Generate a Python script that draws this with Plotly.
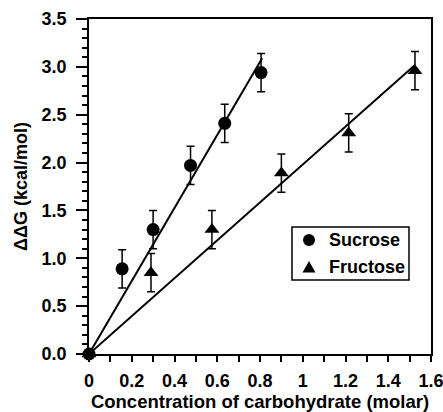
import plotly.graph_objects as go

# Data
sucrose_x = [0.0, 0.155, 0.30, 0.475, 0.635, 0.805]
sucrose_y = [0.0, 0.89, 1.30, 1.97, 2.41, 2.94]
sucrose_err = [0.0, 0.20, 0.20, 0.20, 0.20, 0.20]

fructose_x = [0.0, 0.29, 0.575, 0.90, 1.215, 1.525]
fructose_y = [0.0, 0.85, 1.30, 1.89, 2.31, 2.96]
fructose_err = [0.0, 0.20, 0.20, 0.20, 0.20, 0.20]

sucrose_fit_x = [0.0, 0.81]
sucrose_fit_y = [0.0, 3.09]
fructose_fit_x = [0.0, 1.525]
fructose_fit_y = [0.0, 3.02]

series_names = ["Sucrose", "Fructose"]

FONT = "Liberation Sans, Arial, sans-serif"
W, H = 443, 412
ML, MR, MT, MB = 89, 12, 19, 58
PW, PH = W - ML - MR, H - MT - MB


def px(x):
    return (x - ML) / PW


def py(y):
    return (H - MB - y) / PH


fig = go.Figure()

fig.add_trace(go.Scatter(x=sucrose_fit_x, y=sucrose_fit_y, mode="lines",
                         line=dict(color="black", width=2), showlegend=False,
                         cliponaxis=False))
fig.add_trace(go.Scatter(x=fructose_fit_x, y=fructose_fit_y, mode="lines",
                         line=dict(color="black", width=2), showlegend=False,
                         cliponaxis=False))

fig.add_trace(go.Scatter(
    x=sucrose_x, y=sucrose_y, mode="markers", name=series_names[0],
    marker=dict(symbol="circle", size=13, color="black"),
    error_y=dict(type="data", array=sucrose_err, color="black", thickness=1.5, width=4),
    cliponaxis=False, showlegend=False))
fig.add_trace(go.Scatter(
    x=fructose_x, y=fructose_y, mode="markers", name=series_names[1],
    marker=dict(symbol="triangle-up", size=13, color="black"),
    error_y=dict(type="data", array=fructose_err, color="black", thickness=1.5, width=4),
    cliponaxis=False, showlegend=False))

# Legend box drawn in paper coordinates
fig.add_shape(type="rect", xref="paper", yref="paper",
              x0=px(292), x1=px(409), y0=py(280), y1=py(227),
              line=dict(color="black", width=1.5), fillcolor="white", layer="above")
fig.add_shape(type="circle", xref="paper", yref="paper",
              x0=px(303), x1=px(315), y0=py(246), y1=py(234),
              line=dict(color="black", width=0), fillcolor="black", layer="above")
fig.add_shape(type="path", xref="paper", yref="paper",
              path=f"M {px(302.5)},{py(272.5)} L {px(315.5)},{py(272.5)} L {px(309)},{py(261)} Z",
              line=dict(color="black", width=0), fillcolor="black", layer="above")
for name, yy in zip(series_names, [240, 267]):
    fig.add_annotation(xref="paper", yref="paper", x=px(327), y=py(yy),
                       xanchor="left", yanchor="middle", text=name, showarrow=False,
                       font=dict(size=18, weight="bold", color="black", family=FONT))

fig.update_layout(
    width=W, height=H,
    margin=dict(l=ML, r=MR, t=MT, b=MB),
    paper_bgcolor="white", plot_bgcolor="white",
    font=dict(family=FONT, size=18, color="black", weight="bold"),
    showlegend=False,
    xaxis=dict(range=[0, 1.6], dtick=0.2, tick0=0, showgrid=False, zeroline=False,
               showline=True, linecolor="black", linewidth=1.5, mirror=True,
               ticks="outside", ticklen=6, tickwidth=1.5, tickcolor="black",
               automargin=False, ticklabeloverflow="allow", ticklabelstandoff=4,
               minor=dict(dtick=0.1, ticks="outside", ticklen=6, tickwidth=1.5,
                          tickcolor="black", showgrid=False),
               title=dict(text="Concentration of carbohydrate (molar)", standoff=1,
                          font=dict(size=18.5, weight="bold")),
               tickfont=dict(size=18, weight="bold")),
    yaxis=dict(range=[0, 3.5], dtick=0.5, tick0=0, tickformat=".1f", showgrid=False,
               zeroline=False, showline=True, linecolor="black", linewidth=1.5,
               mirror=True, ticks="outside", ticklen=11, tickwidth=1.5, tickcolor="black",
               automargin=False, ticklabeloverflow="allow", ticklabelstandoff=6,
               minor=dict(dtick=0.1, ticks="outside", ticklen=5, tickwidth=1.5,
                          tickcolor="black", showgrid=False),
               title=dict(text="ΔΔG (kcal/mol)", standoff=9,
                          font=dict(size=18, weight="bold")),
               tickfont=dict(size=18, weight="bold")),
)

fig.write_html("out.html", config={"displayModeBar": False},
               post_script="document.body.style.margin='0';document.body.style.overflow='hidden';")
